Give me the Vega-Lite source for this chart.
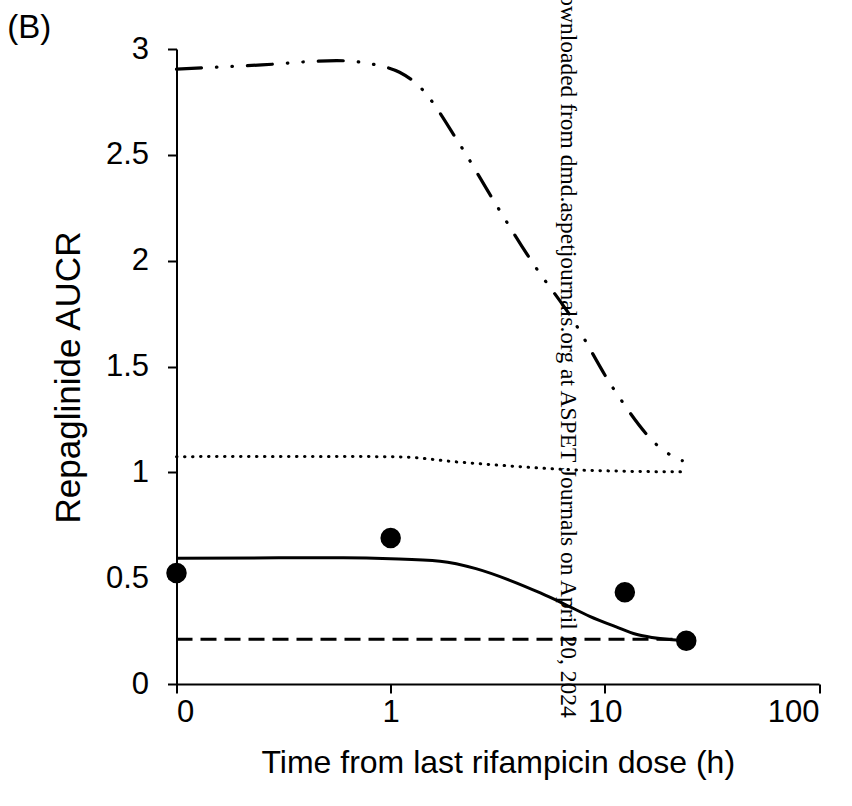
{
  "$schema": "https://vega.github.io/schema/vega-lite/v6.json",
  "width": 642.5,
  "height": 635,
  "autosize": {"type": "none"},
  "padding": {"left": 176.5, "top": 49, "right": 33, "bottom": 122},
  "background": "white",
  "config": {
    "view": {"stroke": null},
    "font": "Liberation Sans",
    "axis": {
      "grid": false,
      "domainColor": "black",
      "domainWidth": 2,
      "tickColor": "black",
      "tickWidth": 2,
      "tickSize": 9,
      "labelColor": "black",
      "labelFontSize": 31,
      "titleColor": "black",
      "titleFontSize": 32,
      "titleFontWeight": "normal",
      "labelFont": "Liberation Sans",
      "titleFont": "Liberation Sans"
    }
  },
  "datasets": {
    "curves": [
      {"series": "s1", "t": 0.1, "aucr": 0.594},
      {"series": "s1", "t": 0.3, "aucr": 0.596},
      {"series": "s1", "t": 0.6, "aucr": 0.596},
      {"series": "s1", "t": 1.0, "aucr": 0.592},
      {"series": "s1", "t": 1.7, "aucr": 0.58},
      {"series": "s1", "t": 2.5, "aucr": 0.545},
      {"series": "s1", "t": 3.6, "aucr": 0.49},
      {"series": "s1", "t": 5.0, "aucr": 0.43},
      {"series": "s1", "t": 6.4, "aucr": 0.38},
      {"series": "s1", "t": 8.5, "aucr": 0.32},
      {"series": "s1", "t": 11.3, "aucr": 0.27},
      {"series": "s1", "t": 14.0, "aucr": 0.235},
      {"series": "s1", "t": 16.6, "aucr": 0.22},
      {"series": "s1", "t": 20.0, "aucr": 0.21},
      {"series": "s1", "t": 24.0, "aucr": 0.205},
      {"series": "s2", "t": 0.1, "aucr": 0.212},
      {"series": "s2", "t": 24.0, "aucr": 0.212},
      {"series": "s3", "t": 0.1, "aucr": 1.074},
      {"series": "s3", "t": 0.5, "aucr": 1.075},
      {"series": "s3", "t": 1.1, "aucr": 1.073},
      {"series": "s3", "t": 2.0, "aucr": 1.05},
      {"series": "s3", "t": 3.6, "aucr": 1.03},
      {"series": "s3", "t": 6.4, "aucr": 1.014},
      {"series": "s3", "t": 11.3, "aucr": 1.006},
      {"series": "s3", "t": 24.0, "aucr": 1.002},
      {"series": "s4", "t": 0.1, "aucr": 2.905},
      {"series": "s4", "t": 0.25, "aucr": 2.925},
      {"series": "s4", "t": 0.56, "aucr": 2.945},
      {"series": "s4", "t": 0.9, "aucr": 2.92},
      {"series": "s4", "t": 1.1, "aucr": 2.89},
      {"series": "s4", "t": 1.34, "aucr": 2.83},
      {"series": "s4", "t": 2.1, "aucr": 2.55},
      {"series": "s4", "t": 3.0, "aucr": 2.29},
      {"series": "s4", "t": 4.6, "aucr": 1.99},
      {"series": "s4", "t": 7.1, "aucr": 1.72},
      {"series": "s4", "t": 10.9, "aucr": 1.4},
      {"series": "s4", "t": 18.7, "aucr": 1.105},
      {"series": "s4", "t": 23.0, "aucr": 1.055}
    ],
    "observed": [
      {"t": 0.1, "aucr": 0.524},
      {"t": 1.0, "aucr": 0.69},
      {"t": 12.4, "aucr": 0.434},
      {"t": 24.0, "aucr": 0.204}
    ],
    "notes": [
      {"label": "Downloaded from dmd.aspetjournals.org at ASPET Journals on April 20, 2024", "t": 6.73, "aucr": -0.16},
      {"label": "(B)", "t": 0.0162, "aucr": 3.05}
    ]
  },
  "layer": [
    {
      "data": {"name": "curves"},
      "transform": [{"filter": "datum.series === 's4'"}],
      "mark": {"type": "line", "color": "black", "strokeWidth": 3.2, "strokeCap": "round", "strokeDash": [25, 15, 0.5, 15, 0.5, 15], "interpolate": "monotone"},
      "encoding": {
        "x": {
          "field": "t",
          "type": "quantitative",
          "scale": {"type": "log", "domain": [0.1, 100], "nice": false},
          "axis": {
            "values": [0.1, 1, 10, 100],
            "labelExpr": "datum.value < 1 ? '0' : format(datum.value, 'd')",
            "title": "Time from last rifampicin dose (h)",
            "labelPadding": 4,
            "titlePadding": 20
          }
        },
        "y": {
          "field": "aucr",
          "type": "quantitative",
          "scale": {"domain": [0, 3], "nice": false, "zero": false},
          "axis": {
            "values": [0, 0.5, 1, 1.5, 2, 2.5, 3],
            "labelExpr": "format(datum.value, '~g')",
            "title": "Repaglinide AUCR",
            "titleFontSize": 35,
            "titleY": 328,
            "labelPadding": 19,
            "titlePadding": 19
          }
        }
      }
    },
    {
      "data": {"name": "curves"},
      "transform": [{"filter": "datum.series === 's3'"}],
      "mark": {"type": "line", "color": "black", "strokeWidth": 3, "strokeCap": "round", "strokeDash": [0.5, 7.5], "interpolate": "monotone"},
      "encoding": {
        "x": {"field": "t", "type": "quantitative"},
        "y": {"field": "aucr", "type": "quantitative"}
      }
    },
    {
      "data": {"name": "curves"},
      "transform": [{"filter": "datum.series === 's2'"}],
      "mark": {"type": "line", "color": "black", "strokeWidth": 3, "strokeDash": [16, 8]},
      "encoding": {
        "x": {"field": "t", "type": "quantitative"},
        "y": {"field": "aucr", "type": "quantitative"}
      }
    },
    {
      "data": {"name": "curves"},
      "transform": [{"filter": "datum.series === 's1'"}],
      "mark": {"type": "line", "color": "black", "strokeWidth": 3, "interpolate": "monotone"},
      "encoding": {
        "x": {"field": "t", "type": "quantitative"},
        "y": {"field": "aucr", "type": "quantitative"}
      }
    },
    {
      "data": {"name": "observed"},
      "mark": {"type": "circle", "color": "black", "opacity": 1, "size": 420},
      "encoding": {
        "x": {"field": "t", "type": "quantitative"},
        "y": {"field": "aucr", "type": "quantitative"}
      }
    },
    {
      "data": {"name": "notes"},
      "transform": [{"filter": "datum.label !== '(B)'"}],
      "mark": {"type": "text", "font": "Liberation Serif", "fontSize": 23.5, "angle": 90, "align": "right", "baseline": "middle", "color": "black"},
      "encoding": {
        "x": {"field": "t", "type": "quantitative"},
        "y": {"field": "aucr", "type": "quantitative"},
        "text": {"field": "label", "type": "nominal"}
      }
    },
    {
      "data": {"name": "notes"},
      "transform": [{"filter": "datum.label === '(B)'"}],
      "mark": {"type": "text", "font": "Liberation Sans", "fontSize": 33, "align": "left", "baseline": "alphabetic", "color": "black"},
      "encoding": {
        "x": {"field": "t", "type": "quantitative"},
        "y": {"field": "aucr", "type": "quantitative"},
        "text": {"field": "label", "type": "nominal"}
      }
    }
  ]
}
